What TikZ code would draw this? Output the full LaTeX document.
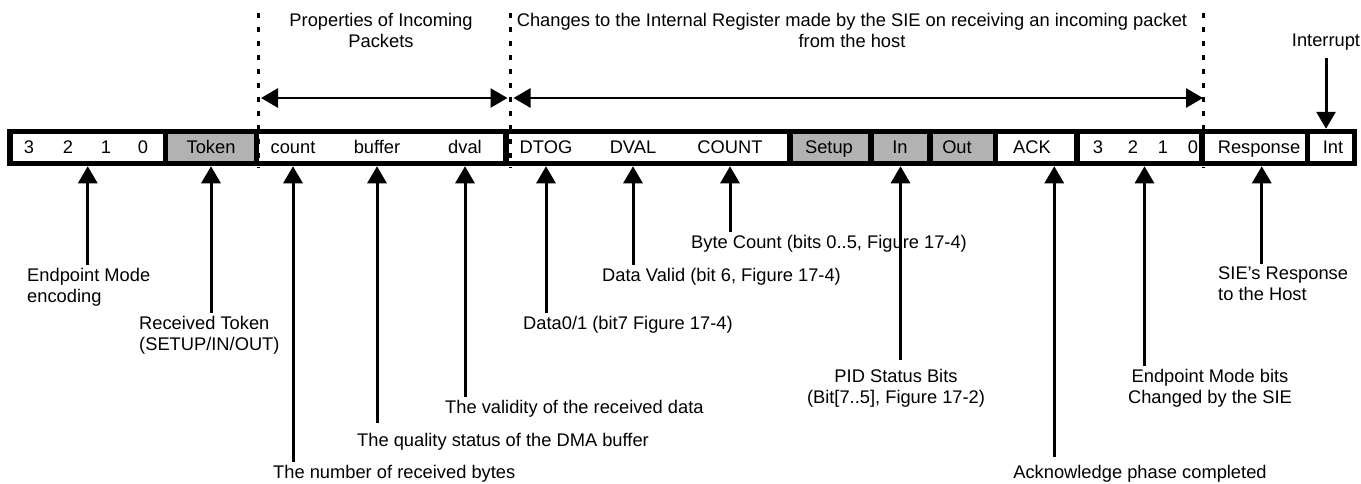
\documentclass[tikz,border=0pt]{standalone}
\usepackage{fontspec}
\setmainfont{Liberation Sans}
\usetikzlibrary{arrows.meta,calc}

\begin{document}
\begin{tikzpicture}[
            x=1pt, y=-1pt,
            every node/.style={font=\fontsize{18.3}{21}\selectfont, inner sep=0pt},
            field/.style={draw, line width=5.5pt, minimum height=32pt},
            grey/.style={fill=black!30},
            ptr/.style={line width=3pt, -{Triangle[length=17pt,width=19pt]}, shorten <=3pt},
            span/.style={line width=2.7pt, {Triangle[length=17pt,width=19pt]}-{Triangle[length=17pt,width=19pt]}, shorten <=3pt, shorten >=3pt},
            guide/.style={line width=3pt, dash pattern=on 5pt off 9pt}
        ]
            \useasboundingbox (0,0) rectangle (1361,483);

            \node[field, minimum width=155.5pt] (ep) at (87.75,147.5) {};
            \node[field, grey, minimum width=91pt] (tokf) at (211,147.5) {};
            \node[field, minimum width=249.5pt] (prp) at (381.25,147.5) {};
            \node[field, minimum width=284pt] (reg) at (648,147.5) {};
            \node[field, grey, minimum width=81pt] (setf) at (830.5,147.5) {};
            \node[field, grey, minimum width=59pt] (inf) at (900.5,147.5) {};
            \node[field, grey, minimum width=65.5pt] (outf) at (962.75,147.5) {};
            \node[field, minimum width=81.5pt] (ackf) at (1036.25,147.5) {};
            \node[field, minimum width=125pt] (epb) at (1139.5,147.5) {};
            \node[field, minimum width=105.5pt] (rspf) at (1254.75,147.5) {};
            \node[field, minimum width=47pt] (intf) at (1331,147.5) {};

            \node[anchor=base] (m3) at (29,153) {3};
            \node[anchor=base] (m2) at (68,153) {2};
            \node[anchor=base] (m1) at (106,153) {1};
            \node[anchor=base] (m0) at (143,153) {0};
            \node[anchor=base] (tok) at (211,153) {Token};
            \node[anchor=base] (cnt) at (293,153) {count};
            \node[anchor=base] (buf) at (377,153) {buffer};
            \node[anchor=base] (dvl) at (465,153) {dval};
            \node[anchor=base] (dtog) at (546,153) {DTOG};
            \node[anchor=base] (dval) at (633,153) {DVAL};
            \node[anchor=base] (count) at (730,153) {COUNT};
            \node[anchor=base] (setup) at (829,153) {Setup};
            \node[anchor=base] (in) at (900,153) {In};
            \node[anchor=base] (out) at (957,153) {Out};
            \node[anchor=base] (ack) at (1032,153) {ACK};
            \node[anchor=base] (n3) at (1098,153) {3};
            \node[anchor=base] (n2) at (1133,153) {2};
            \node[anchor=base] (n1) at (1163,153) {1};
            \node[anchor=base] (n0) at (1193,153) {0};
            \node[anchor=base] (rsp) at (1259,153) {Response};
            \node[anchor=base] (int) at (1333,153) {Int};

            \node[anchor=north, align=center] (prop) at (381,13) {Properties of Incoming\\Packets};
            \node[anchor=north, align=center] (chg) at (852,13) {Changes to the Internal Register made by the SIE on receiving an incoming packet\\from the host};
            \node[anchor=north] (intl) at (1326,34) {Interrupt};

            \node[anchor=north west, align=left] (epml) at (27,268) {Endpoint Mode\\encoding};
            \node[anchor=north west, align=left] (tokl) at (139,316) {Received Token\\(SETUP/IN/OUT)};
            \node[anchor=north west] (cntl) at (273,465) {The number of received bytes};
            \node[anchor=north west] (bufl) at (357,433) {The quality status of the DMA buffer};
            \node[anchor=north west] (dvll) at (445,400) {The validity of the received data};
            \node[anchor=north west] (dtogl) at (523,316) {Data0/1 (bit7 Figure 17-4)};
            \node[anchor=north west] (dvall) at (602,268) {Data Valid (bit 6, Figure 17-4)};
            \node[anchor=north west] (countl) at (691,235) {Byte Count (bits 0..5, Figure 17-4)};
            \node[anchor=north, align=center] (pidl) at (896,369) {PID Status Bits\\(Bit[7..5], Figure 17-2)};
            \node[anchor=north] (ackl) at (1140,465) {Acknowledge phase completed};
            \node[anchor=north, align=center] (epbl) at (1210,369) {Endpoint Mode bits\\Changed by the SIE};
            \node[anchor=north west, align=left] (rspl) at (1218,267) {SIE’s Response\\to the Host};

            \draw[ptr] (epml.north -| ep.south) -- (ep.south);
            \draw[ptr] (tokl.north -| tokf.south) -- (tokf.south);
            \draw[ptr] (cntl.north -| cnt) -- (cnt |- prp.south);
            \draw[ptr, shorten <=10pt] (bufl.north -| buf) -- (buf |- prp.south);
            \draw[ptr] (dvll.north -| dvl) -- (dvl |- prp.south);
            \draw[ptr] (dtogl.north -| dtog) -- (dtog |- reg.south);
            \draw[ptr] (dvall.north -| dval) -- (dval |- reg.south);
            \draw[ptr] (countl.north -| count) -- (count |- reg.south);
            \draw[ptr, shorten <=9pt] (pidl.north -| inf.south) -- (inf.south);
            \coordinate (ackp) at ($(ackf.south)+(18,0)$);
            \draw[ptr, shorten <=8pt] (ackl.north -| ackp) -- (ackp);
            \coordinate (epbp) at ($(epb.south)+(5,0)$);
            \draw[ptr] (epbl.north -| epbp) -- (epbp);
            \coordinate (rspp) at ($(rspf.south)+(7,0)$);
            \draw[ptr] (rspl.north -| rspp) -- (rspp);
            \draw[ptr, shorten <=7pt] (intl.south) -- (intl.south |- intf.north);

            \coordinate (gl) at (258,98);
            \coordinate (gm) at (510.5,98);
            \coordinate (gr) at (1203,98);
            \foreach \g in {gl,gm,gr}
                \draw[guide] (\g |- 0,13) -- (\g |- 0,168);
            \draw[span] (gl) -- (gm);
            \draw[span, shorten >=0pt] (gm) -- (gr);
        \end{tikzpicture}
\end{document}
